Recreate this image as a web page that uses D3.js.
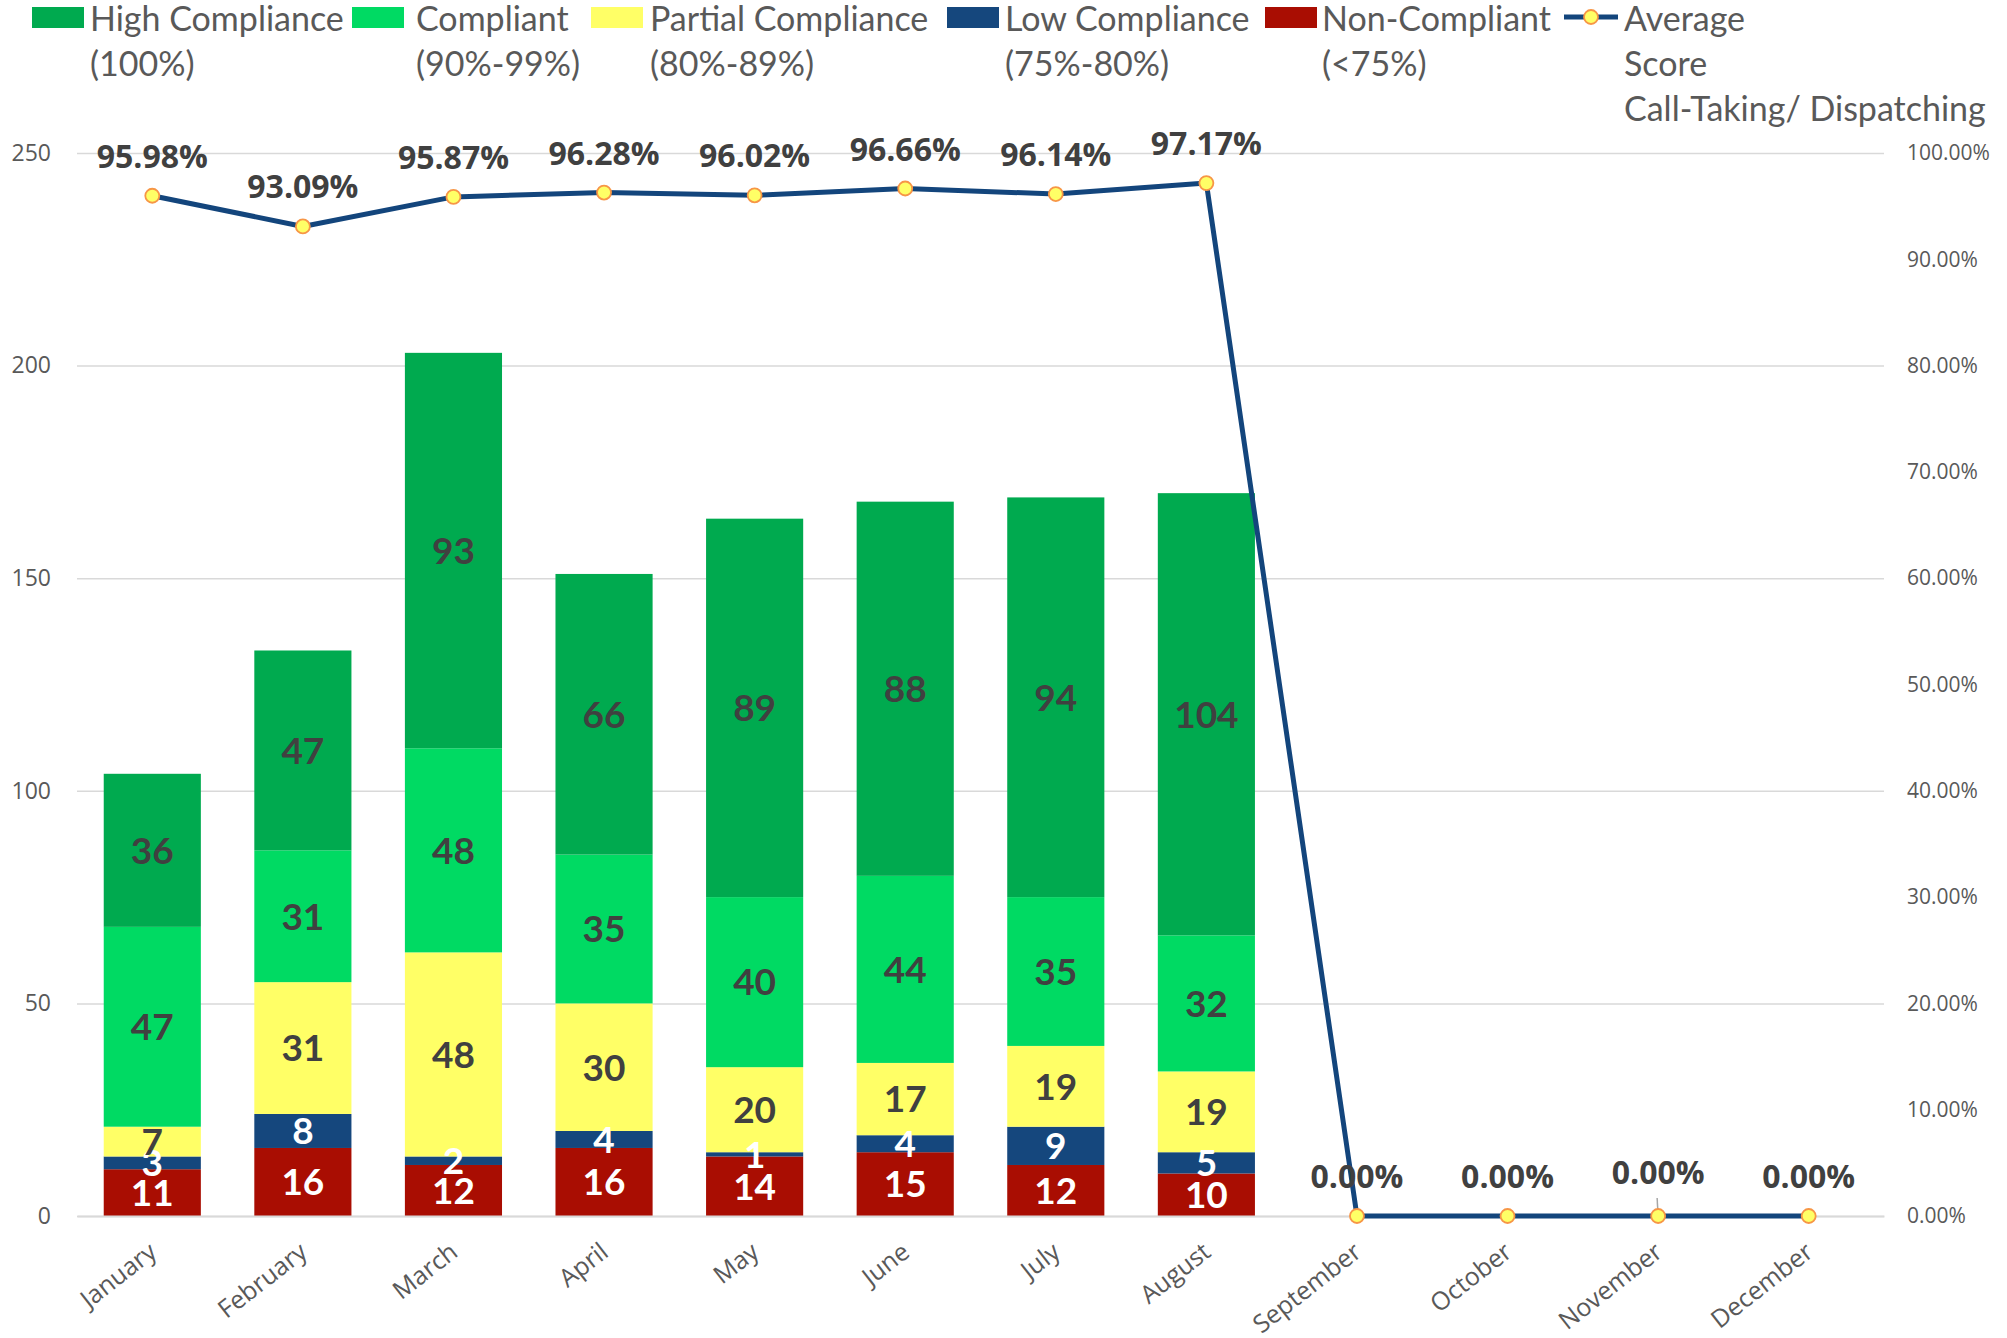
<!DOCTYPE html>
<html>
<head>
<meta charset="utf-8">
<script src="https://cdn.jsdelivr.net/npm/d3@7"></script>
<style>
    body { margin: 0; background: #fff; }
    svg { display: block; }
</style>
</head>
<body>
<div id="chart"></div>
<script>
// chart data
const months = ['January', 'February', 'March', 'April', 'May', 'June',
    'July', 'August', 'September', 'October', 'November', 'December'];
const nonCompliant = [11, 16, 12, 16, 14, 15, 12, 10, 0, 0, 0, 0];
const lowCompliance = [3, 8, 2, 4, 1, 4, 9, 5, 0, 0, 0, 0];
const partialCompliance = [7, 31, 48, 30, 20, 17, 19, 19, 0, 0, 0, 0];
const compliant = [47, 31, 48, 35, 40, 44, 35, 32, 0, 0, 0, 0];
const highCompliance = [36, 47, 93, 66, 89, 88, 94, 104, 0, 0, 0, 0];
const averageScore = [0.9598, 0.9309, 0.9587, 0.9628, 0.9602, 0.9666, 0.9614, 0.9717, 0, 0, 0, 0];
const leftTicks = [0, 50, 100, 150, 200, 250];
const rightTicks = [0, 0.1, 0.2, 0.3, 0.4, 0.5, 0.6, 0.7, 0.8, 0.9, 1.0];

const seriesKeys = ['non', 'low', 'partial', 'compliant', 'high'];
const seriesColors = {
    non: '#A90D02', low: '#15477D', partial: '#FFFF66',
    compliant: '#00DA63', high: '#00AA4F'
};
const legendLabels = [
    ['High Compliance', '(100%)'],
    ['Compliant', '(90%-99%)'],
    ['Partial Compliance', '(80%-89%)'],
    ['Low Compliance', '(75%-80%)'],
    ['Non-Compliant', '(<75%)'],
    ['Average', 'Score', 'Call-Taking/ Dispatching']
];

const rows = months.map((m, i) => ({
    month: m,
    non: nonCompliant[i],
    low: lowCompliance[i],
    partial: partialCompliance[i],
    compliant: compliant[i],
    high: highCompliance[i]
}));

const width = 2007, height = 1338;
const plotLeft = 77, plotRight = 1884, plotTop = 153, plotBottom = 1216;

const svg = d3.select('#chart')
    .append('svg')
    .attr('width', width)
    .attr('height', height)
    .style('background', '#fff');

const x = d3.scaleBand()
    .domain(months)
    .range([plotLeft, plotRight])
    .paddingInner(0.355)
    .paddingOuter(0.1775);

const yLeft = d3.scaleLinear().domain([0, 250]).range([plotBottom, plotTop]);
const yRight = d3.scaleLinear().domain([0, 1]).range([plotBottom, plotTop]);

// gridlines
const grid = svg.append('g')
    .attr('transform', `translate(${plotLeft},0)`)
    .call(d3.axisLeft(yLeft).tickValues(leftTicks).tickSize(-(plotRight - plotLeft)).tickFormat(''));
grid.select('.domain').remove();
grid.selectAll('line').attr('stroke', '#D9D9D9').attr('stroke-width', 1.5);

// stacked bars
const stacked = d3.stack().keys(seriesKeys)(rows);

const layers = svg.append('g')
    .selectAll('g')
    .data(stacked)
    .join('g')
    .attr('fill', d => seriesColors[d.key]);

layers.selectAll('rect')
    .data(d => d)
    .join('rect')
    .attr('x', d => x(d.data.month))
    .attr('width', x.bandwidth())
    .attr('y', d => yLeft(d[1]))
    .attr('height', d => yLeft(d[0]) - yLeft(d[1]));

// bar labels
const labelGroups = svg.append('g')
    .selectAll('g')
    .data(stacked)
    .join('g')
    .attr('fill', d => (d.key === 'non' || d.key === 'low') ? '#FFFFFF' : '#404040');

labelGroups.selectAll('text')
    .data(d => d.filter(v => v[1] - v[0] > 0))
    .join('text')
    .attr('x', d => x(d.data.month) + x.bandwidth() / 2)
    .attr('y', d => yLeft((d[0] + d[1]) / 2))
    .attr('dy', '0.36em')
    .attr('text-anchor', 'middle')
    .style('font-family', 'Lato, sans-serif')
    .style('font-weight', 'bold')
    .style('font-size', '37px')
    .text(d => d[1] - d[0]);

// x axis
const xAxis = svg.append('g')
    .attr('transform', `translate(0,${plotBottom})`)
    .call(d3.axisBottom(x).tickSize(0));
xAxis.select('.domain').attr('stroke', '#D9D9D9').attr('stroke-width', 2);
xAxis.selectAll('text')
    .attr('x', 0)
    .attr('y', 0)
    .attr('dy', 0)
    .attr('text-anchor', 'end')
    .attr('transform', 'translate(6,39) rotate(-38)')
    .attr('fill', '#595959')
    .style('font-family', '"Open Sans", sans-serif')
    .style('font-size', '25px');

// left axis labels
const yAxisLeft = svg.append('g')
    .attr('transform', `translate(${plotLeft},0)`)
    .call(d3.axisLeft(yLeft).tickValues(leftTicks).tickSize(0).tickPadding(26));
yAxisLeft.select('.domain').remove();
yAxisLeft.selectAll('text')
    .attr('fill', '#595959')
    .style('font-family', '"Open Sans", sans-serif')
    .style('font-size', '23px');

// right axis labels
const yAxisRight = svg.append('g')
    .attr('transform', `translate(${plotRight},0)`)
    .call(d3.axisRight(yRight).tickValues(rightTicks).tickSize(0).tickPadding(23)
        .tickFormat(d3.format('.2%')));
yAxisRight.select('.domain').remove();
yAxisRight.selectAll('text')
    .attr('fill', '#595959')
    .style('font-family', '"Open Sans", sans-serif')
    .style('font-size', '21px');

// average score line
const cx = m => x(m) + x.bandwidth() / 2;
const line = d3.line()
    .x((d, i) => cx(months[i]))
    .y(d => yRight(d));

svg.append('path')
    .datum(averageScore)
    .attr('fill', 'none')
    .attr('stroke', '#13457C')
    .attr('stroke-width', 5)
    .attr('stroke-linejoin', 'round')
    .attr('d', line);

// leader line for November label
svg.append('line')
    .attr('x1', cx('November') - 1)
    .attr('x2', cx('November'))
    .attr('y1', yRight(averageScore[10]) - 18)
    .attr('y2', yRight(averageScore[10]))
    .attr('stroke', '#A6A6A6')
    .attr('stroke-width', 1.5);

svg.append('g')
    .selectAll('circle')
    .data(averageScore)
    .join('circle')
    .attr('cx', (d, i) => cx(months[i]))
    .attr('cy', d => yRight(d))
    .attr('r', 7)
    .attr('fill', '#FFFF66')
    .attr('stroke', '#F79646')
    .attr('stroke-width', 1.8);

svg.append('g')
    .selectAll('text')
    .data(averageScore)
    .join('text')
    .attr('x', (d, i) => cx(months[i]))
    .attr('y', (d, i) => yRight(d) - (i === 10 ? 32 : 28))
    .attr('text-anchor', 'middle')
    .attr('fill', '#404040')
    .style('font-family', '"Open Sans", sans-serif')
    .style('font-weight', 'bold')
    .style('font-size', '32px')
    .text(d => d3.format('.2%')(d));

// legend
const swatchX = [32, 352, 591, 947, 1265];
const legendTextX = [90, 416, 650, 1005, 1322, 1624];

const legend = svg.append('g');

seriesKeys.slice().reverse().forEach((key, i) => {
    legend.append('rect')
        .attr('x', swatchX[i])
        .attr('y', 7)
        .attr('width', 52)
        .attr('height', 21)
        .attr('fill', seriesColors[key]);
});

legend.append('line')
    .attr('x1', 1564)
    .attr('x2', 1618)
    .attr('y1', 17)
    .attr('y2', 17)
    .attr('stroke', '#13457C')
    .attr('stroke-width', 5);

legend.append('circle')
    .attr('cx', 1591)
    .attr('cy', 17)
    .attr('r', 7)
    .attr('fill', '#FFFF66')
    .attr('stroke', '#F79646')
    .attr('stroke-width', 1.8);

legendLabels.forEach((lines, i) => {
    const t = legend.append('text')
        .attr('fill', '#595959')
        .style('font-family', 'Lato, sans-serif')
        .style('font-size', '34px');
    lines.forEach((s, j) => {
        t.append('tspan')
            .attr('x', legendTextX[i])
            .attr('y', 31 + j * 45)
            .text(s);
    });
});
</script>
</body>
</html>
